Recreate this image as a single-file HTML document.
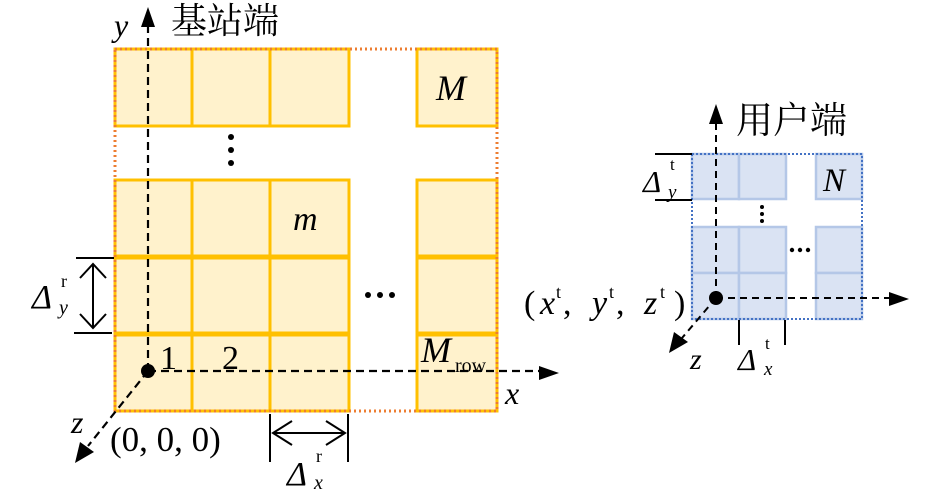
<!DOCTYPE html>
<html><head><meta charset="utf-8"><style>
html,body{margin:0;padding:0;background:#fff;}
svg{display:block;}
text{font-family:"Liberation Serif","Noto Serif CJK SC",serif;fill:#000;}
.cjk{font-family:"Noto Serif CJK SC","Noto Sans CJK SC",serif;}
</style></head><body>
<svg width="945" height="499" viewBox="0 0 945 499" xmlns="http://www.w3.org/2000/svg">
<g fill="#FFF2CC" stroke="#FFC000" stroke-width="3">
<rect x="115" y="49" width="77" height="77"/><rect x="192" y="49" width="78" height="77"/><rect x="270" y="49" width="79" height="77"/>
<rect x="417" y="49" width="80" height="77"/>
<rect x="115" y="180" width="77" height="77"/><rect x="192" y="180" width="78" height="77"/><rect x="270" y="180" width="79" height="77"/>
<rect x="417" y="180" width="80" height="77"/>
<rect x="115" y="257" width="77" height="77"/><rect x="192" y="257" width="78" height="77"/><rect x="270" y="257" width="79" height="77"/>
<rect x="417" y="257" width="80" height="77"/>
<rect x="115" y="334" width="77" height="77"/><rect x="192" y="334" width="78" height="77"/><rect x="270" y="334" width="79" height="77"/>
<rect x="417" y="334" width="80" height="77"/>
</g>
<g stroke="#FFC000" stroke-width="5"><line x1="115" y1="257" x2="349" y2="257"/><line x1="115" y1="334" x2="349" y2="334"/><line x1="417" y1="257" x2="497" y2="257"/><line x1="417" y1="334" x2="497" y2="334"/></g>
<rect x="115" y="49" width="382" height="362" fill="none" stroke="#ED7D31" stroke-width="3" stroke-dasharray="2,3"/>
<g fill="#000"><circle cx="231" cy="137" r="3"/><circle cx="231" cy="150" r="3"/><circle cx="231" cy="163" r="3"/>
<circle cx="368" cy="295" r="3"/><circle cx="380" cy="295" r="3"/><circle cx="392" cy="295" r="3"/></g>
<g stroke="#000" stroke-width="2.2" stroke-dasharray="8,5" fill="none">
<line x1="148" y1="371" x2="148" y2="25"/><line x1="148" y1="371" x2="540" y2="371"/><line x1="148" y1="371" x2="88" y2="446"/>
</g>
<polygon points="148,7 141,27 155,27" fill="#000"/>
<polygon points="559,373 539,366 539,380" fill="#000"/>
<polygon points="75,463 80,442 94,452" fill="#000"/>
<circle cx="148" cy="371" r="7" fill="#000"/>
<text x="114" y="36" font-size="32" font-style="italic">y</text>
<text x="171" y="33" font-size="36" class="cjk">基站端</text>
<text x="436" y="100" font-size="36" font-style="italic">M</text>
<text x="293" y="230" font-size="34" font-style="italic">m</text>
<text x="160" y="369" font-size="34">1</text>
<text x="222" y="369" font-size="34">2</text>
<text x="421" y="362" font-size="36" font-style="italic">M</text>
<text x="455" y="372" font-size="20">row</text>
<text x="505" y="404" font-size="32" font-style="italic">x</text>
<text x="71" y="433" font-size="32" font-style="italic">z</text>
<text x="110" y="451" font-size="35">(0, 0, 0)</text>
<g stroke="#000" stroke-width="2" fill="none">
<line x1="76" y1="258" x2="114" y2="258"/><line x1="74" y1="333" x2="112" y2="333"/>
<line x1="93" y1="264" x2="93" y2="328"/>
<polyline points="80,278 93,264 106,278"/><polyline points="80,314 93,328 106,314"/>
<line x1="270" y1="414" x2="270" y2="462"/><line x1="348" y1="414" x2="348" y2="462"/>
<line x1="273" y1="433" x2="345" y2="433"/>
<polyline points="292,421 273,433 292,445"/><polyline points="326,421 345,433 326,445"/>
</g>
<text x="32" y="308" font-size="34" font-style="italic">Δ</text>
<text x="61" y="287" font-size="18">r</text>
<text x="59" y="314" font-size="20" font-style="italic">y</text>
<text x="287" y="485" font-size="34" font-style="italic">Δ</text>
<text x="316" y="462" font-size="18">r</text>
<text x="314" y="489" font-size="20" font-style="italic">x</text>
<g fill="#DAE3F3" stroke="#B4C7E7" stroke-width="2.5">
<rect x="692" y="154" width="47" height="45"/><rect x="739" y="154" width="47" height="45"/><rect x="816" y="154" width="46" height="45"/>
<rect x="692" y="227" width="47" height="46"/><rect x="739" y="227" width="47" height="46"/><rect x="816" y="227" width="46" height="46"/>
<rect x="692" y="273" width="47" height="46"/><rect x="739" y="273" width="47" height="46"/><rect x="816" y="273" width="46" height="46"/>
</g>
<rect x="692" y="154" width="170" height="165" fill="none" stroke="#4472C4" stroke-width="2" stroke-dasharray="2,2"/>
<g fill="#000"><circle cx="762" cy="207" r="2"/><circle cx="762" cy="214" r="2"/><circle cx="762" cy="221" r="2"/>
<circle cx="792" cy="250" r="2.2"/><circle cx="800" cy="250" r="2.2"/><circle cx="808" cy="250" r="2.2"/></g>
<g stroke="#000" stroke-width="2" stroke-dasharray="7,5" fill="none">
<line x1="716" y1="298" x2="716" y2="122"/><line x1="716" y1="298" x2="890" y2="298"/><line x1="716" y1="298" x2="682" y2="338"/>
</g>
<polygon points="716,104 709,124 723,124" fill="#000"/>
<polygon points="909,299 889,292 889,306" fill="#000"/>
<polygon points="669,353 674,332 688,342" fill="#000"/>
<circle cx="716" cy="298" r="7" fill="#000"/>
<text x="736" y="133" font-size="37" class="cjk">用户端</text>
<text x="823" y="191" font-size="33" font-style="italic">N</text>
<g stroke="#000" stroke-width="2"><line x1="655" y1="154" x2="692" y2="154"/><line x1="655" y1="200" x2="692" y2="200"/>
<line x1="739" y1="320" x2="739" y2="345"/><line x1="785" y1="320" x2="785" y2="345"/></g>
<text x="643" y="192" font-size="31" font-style="italic">Δ</text>
<text x="670" y="170" font-size="17">t</text>
<text x="668" y="198" font-size="19" font-style="italic">y</text>
<text x="738" y="370" font-size="31" font-style="italic">Δ</text>
<text x="765" y="349" font-size="17">t</text>
<text x="764" y="375" font-size="19" font-style="italic">x</text>
<text x="690" y="369" font-size="30" font-style="italic">z</text>
<g font-size="34">
<text x="524" y="314">(</text>
<text x="540" y="314" font-style="italic">x</text>
<text x="556" y="298" font-size="18">t</text>
<text x="563" y="314">,</text>
<text x="592" y="314" font-style="italic">y</text>
<text x="609" y="298" font-size="18">t</text>
<text x="616" y="314">,</text>
<text x="644" y="314" font-style="italic">z</text>
<text x="660" y="298" font-size="18">t</text>
<text x="674" y="314">)</text>
</g>
</svg>
</body></html>
